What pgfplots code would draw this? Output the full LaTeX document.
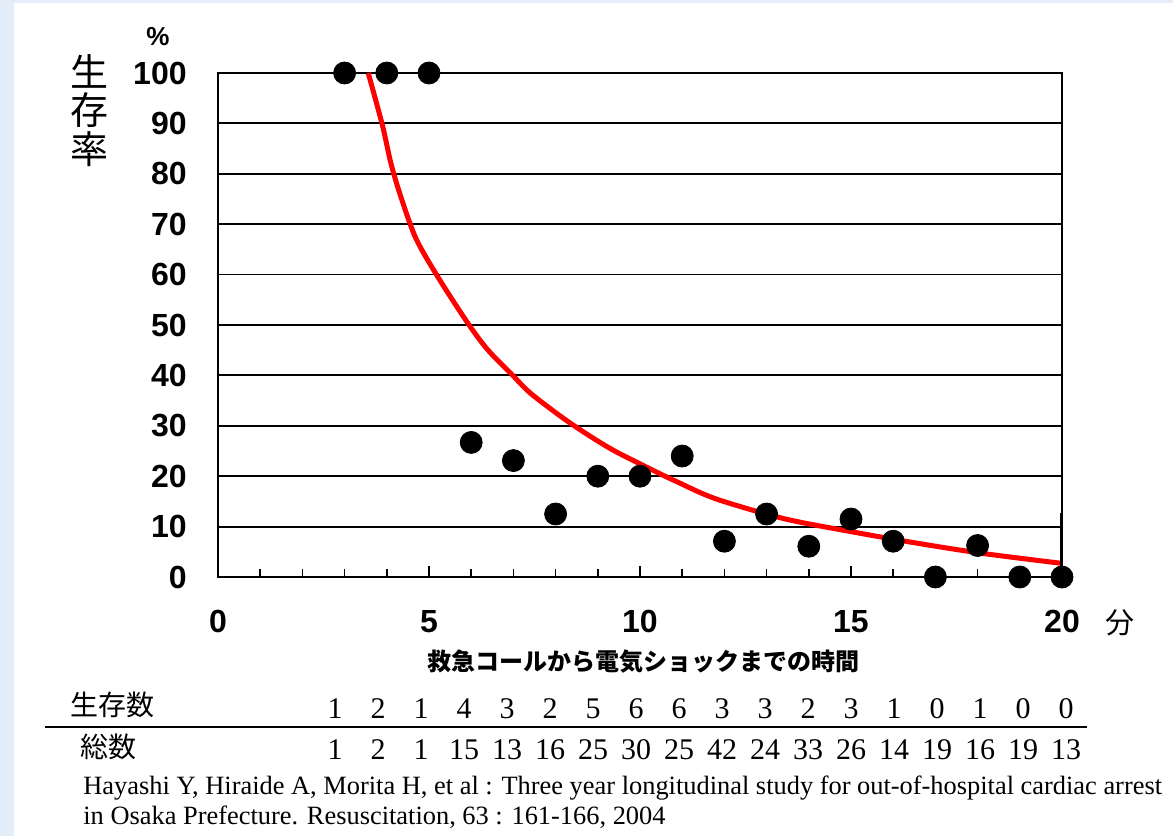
\documentclass[border=0pt]{standalone}
\usepackage{pgfplots}
\pgfplotsset{compat=1.18}
\usepackage{fontspec}
\setmainfont{Liberation Serif}
\setsansfont{Liberation Sans}
\newfontfamily\jp{Noto Sans CJK JP}
\definecolor{bgblue}{RGB}{228,238,249}
\begin{document}
\begin{tikzpicture}
\fill[bgblue] (0,0) rectangle (586.5pt,418pt);
\fill[white] (7pt,0) rectangle (586.5pt,416.5pt);
\useasboundingbox (0,0) rectangle (586.5pt,418pt);
\begin{axis}[
  at={(109pt,129.5pt)}, anchor=south west,
  scale only axis, width=422pt, height=252pt,
  xmin=0, xmax=20, ymin=0, ymax=100,
  xtick={0,5,...,20}, minor xtick={1,...,19},
  ytick={0,10,...,100},
  xtick pos=bottom, tick align=inside,
  major tick length=5.5pt, minor tick length=4.2pt,
  xtick style={black, line width=0.8pt},
  ytick style={draw=none},
  ymajorgrids, grid style={black, line width=0.9pt},
  axis line style={black, line width=1.1pt},
  /pgf/number format/assume math mode=true,
  ticklabel style={font=\sffamily\bfseries\fontsize{16}{16}\selectfont, inner sep=0pt},
  xticklabel style={anchor=north, yshift=-16.5pt},
  yticklabel style={anchor=east, xshift=-15.5pt},
  clip mode=individual,
]
% fitted curve
\addplot[red, line width=2.5pt, smooth] coordinates {
  (3.56,100) (3.9,89.5) (4.1,82) (4.35,75) (4.7,67) (5.25,59) (5.95,50)
  (6.4,45) (6.95,40.3) (7.4,36.5) (8.15,31.7) (8.75,28.3) (9.4,25)
  (10.3,21.2) (10.9,18.8) (11.8,15.5) (13.4,11.6) (15,9.0) (16.5,6.8)
  (18.1,4.7) (20,2.7)
};
% thick stub on the right border
\addplot[black, line width=2pt, forget plot] coordinates {(20,0) (20,12.7)};
% survival rate per minute
\addplot[only marks, mark=*, mark size=5.5pt, black] coordinates {
  (3,100) (4,100) (5,100) (6,26.7) (7,23.1) (8,12.5) (9,20) (10,20)
  (11,24) (12,7.1) (13,12.5) (14,6.1) (15,11.5) (16,7.1) (17,0)
  (18,6.25) (19,0) (20,0)
};
\end{axis}

\node[font=\sffamily\bfseries\fontsize{13}{13}\selectfont] at (79pt,399.5pt) {\%};
\node[font=\jp\fontsize{19}{19}\selectfont, inner sep=0] at (44.5pt,382.5pt) {生};
\node[font=\jp\fontsize{19}{19}\selectfont, inner sep=0] at (44.5pt,363pt) {存};
\node[font=\jp\fontsize{19}{19}\selectfont, inner sep=0] at (44.5pt,343.5pt) {率};
\node[font=\jp\fontsize{14.5}{14.5}\selectfont] at (560pt,106.5pt) {分};
\node[font=\jp\bfseries\fontsize{12}{12}\selectfont] at (321.5pt,87pt) {救急コールから電気ショックまでの時間};

\node[anchor=base west, inner sep=0, font=\jp\fontsize{14}{14}\selectfont] at (35pt,60pt) {生存数};
\node[anchor=base west, inner sep=0, font=\jp\fontsize{14}{14}\selectfont] at (40pt,39.5pt) {総数};
\draw[line width=1pt] (22.5pt,54.5pt) -- (543.5pt,54.5pt);
\foreach \n [count=\i from 0] in {1,2,1,4,3,2,5,6,6,3,3,2,3,1,0,1,0,0}
  \node[anchor=base, inner sep=0, font=\fontsize{15}{15}\selectfont] at ({167.5pt+21.5pt*\i},59pt) {\n};
\foreach \n [count=\i from 0] in {1,2,1,15,13,16,25,30,25,42,24,33,26,14,19,16,19,13}
  \node[anchor=base, inner sep=0, font=\fontsize{15}{15}\selectfont] at ({167.5pt+21.5pt*\i},38.5pt) {\n};

\node[anchor=base west, inner sep=0, font=\fontsize{13.2}{13.2}\selectfont] at (41.5pt,21pt)
  {Hayashi Y, Hiraide A, Morita H, et al : Three year longitudinal study for out-of-hospital cardiac arrest};
\node[anchor=base west, inner sep=0, font=\fontsize{13.2}{13.2}\selectfont] at (41.5pt,6pt)
  {in Osaka Prefecture. Resuscitation, 63 : 161-166, 2004};
\end{tikzpicture}
\end{document}
